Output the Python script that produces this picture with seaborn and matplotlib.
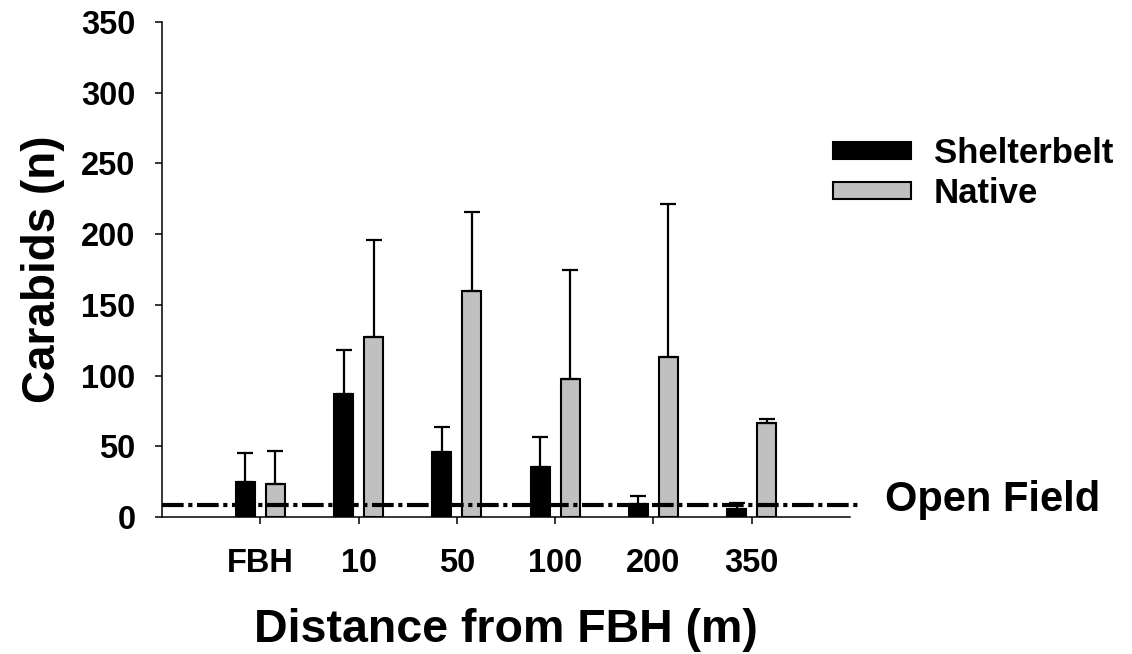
import matplotlib
matplotlib.use("Agg")
import matplotlib.pyplot as plt
import seaborn as sns
import pandas as pd
import numpy as np

# ---- data ----
categories = ["FBH", "10", "50", "100", "200", "350"]
shelterbelt = [24.5, 87, 46, 35.5, 9, 6]
shelterbelt_se = [20.5, 31, 17.5, 21, 5.5, 4]
native = [23.5, 127, 159.5, 97.5, 113, 66.5]
native_se = [23.5, 69, 56, 77.5, 108.5, 2.5]
open_field = 8.3
groups = ["Shelterbelt", "Native"]

df = pd.DataFrame({
    "Distance": categories * 2,
    "Group": [groups[0]] * len(categories) + [groups[1]] * len(categories),
    "Carabids": shelterbelt + native,
})
errs = {groups[0]: shelterbelt_se, groups[1]: native_se}

sns.set_theme(style="ticks")
plt.rcParams["font.family"] = ["Liberation Sans", "DejaVu Sans"]
plt.rcParams["font.weight"] = "bold"
plt.rcParams["text.color"] = "black"
plt.rcParams["axes.labelcolor"] = "black"
plt.rcParams["xtick.color"] = "black"
plt.rcParams["ytick.color"] = "black"
plt.rcParams["xtick.labelcolor"] = "black"
plt.rcParams["ytick.labelcolor"] = "black"

W, H = 1132, 654
fig = plt.figure(figsize=(W / 100, H / 100), dpi=100)
ax = fig.add_axes([162 / W, 1 - 517 / H, (850 - 162) / W, (517 - 22) / H])

sns.barplot(data=df, x="Distance", y="Carabids", hue="Group", order=categories,
            hue_order=groups, palette={groups[0]: "black", groups[1]: "#c0c0c0"},
            width=0.61, gap=0.37, edgecolor="black", linewidth=1.5,
            errorbar=None, ax=ax, legend=True)

for cont, g in zip(ax.containers, groups):
    xs = [b.get_x() + b.get_width() / 2 for b in cont]
    ys = [b.get_height() for b in cont]
    e = errs[g]
    ax.errorbar(xs, ys, yerr=[np.zeros(len(e)), e], fmt="none", ecolor="black",
                elinewidth=1.6, capsize=5.5, capthick=1.6, zorder=1)

ax.axhline(open_field, xmin=0, xmax=1.015, color="black", lw=3,
           linestyle=(0, (5.2, 1.1, 1.0, 1.1)), clip_on=False, zorder=3)
fig.text(885 / W, 1 - 500 / H, "Open Field", fontsize=30, fontweight="bold",
         ha="left", va="center", color="black")

ax.set_xlim(-1, 6)
ax.set_ylim(0, 350)
ax.set_yticks(np.arange(0, 351, 50))
ax.tick_params(axis="both", direction="out", length=5, width=1.1,
               labelsize=23.5, color="black", labelcolor="black")
ax.tick_params(axis="y", pad=14)
ax.tick_params(axis="x", pad=17)
for lab in ax.get_xticklabels() + ax.get_yticklabels():
    lab.set_fontweight("bold")
ax.set_xlabel("Distance from FBH (m)", fontsize=33.5, fontweight="bold",
              labelpad=21, color="black")
ax.set_ylabel("Carabids (n)", fontsize=33, fontweight="bold", labelpad=12,
              color="black")
for s in ["top", "right"]:
    ax.spines[s].set_visible(False)
for s in ["left", "bottom"]:
    ax.spines[s].set_linewidth(1.1)
    ax.spines[s].set_color("black")

leg = ax.legend(loc="upper left", bbox_to_anchor=(833 / W, 1 - 137 / H),
                bbox_transform=fig.transFigure, frameon=False,
                prop={"size": 25, "weight": "bold"}, handlelength=2.25,
                handleheight=0.4, handletextpad=0.65, labelspacing=0.2,
                borderpad=0, borderaxespad=0)
for t in leg.get_texts():
    t.set_color("black")

fig.savefig("out.png", dpi=100)
